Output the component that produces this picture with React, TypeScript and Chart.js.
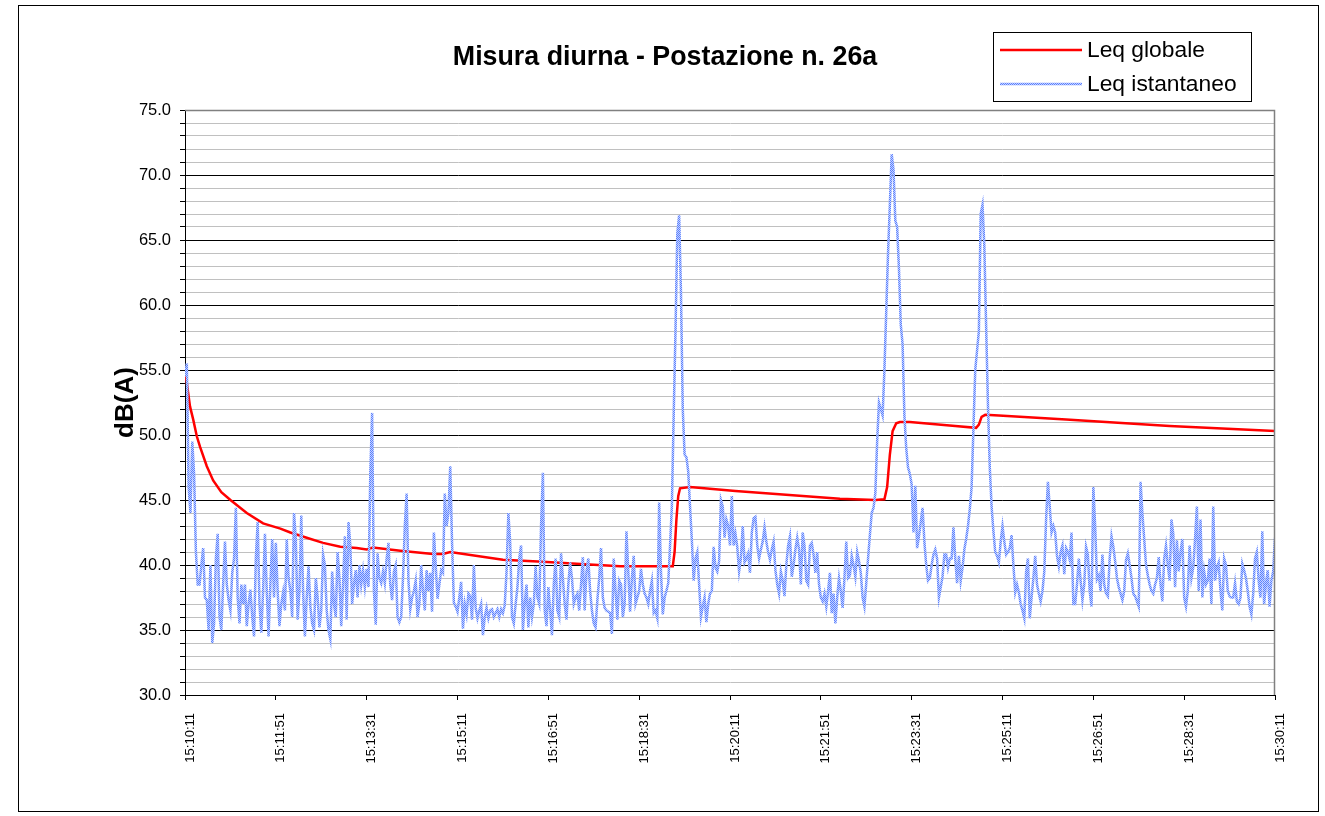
import React, { useEffect, useRef } from 'react';
import { Chart, registerables } from 'chart.js';

Chart.register(...registerables);

const FONT = "'Liberation Sans', Arial, sans-serif";

const chartTitle = 'Misura diurna - Postazione n. 26a';
const yAxisTitle = 'dB(A)';
const seriesNames = ['Leq globale', 'Leq istantaneo'];

// x axis: seconds from 15:10:11
const xTickLabels = [
  '15:10:11', '15:11:51', '15:13:31', '15:15:11', '15:16:51', '15:18:31', '15:20:11',
  '15:21:51', '15:23:31', '15:25:11', '15:26:51', '15:28:31', '15:30:11',
];
const X_TICK_STEP = 100;
const X_MAX = 1200;
const Y_MIN = 30;
const Y_MAX = 75;
const Y_MAJOR = 5;

// Leq istantaneo, one reading every 2 s (15:10:11 -> 15:30:11)
const SAMPLE_STEP = 2;
const instantValues = [
  54.5, 55.5, 46.0, 44.0, 49.5, 47.0, 41.0, 38.5, 38.5, 40.0,
  41.3, 37.5, 37.3, 35.0, 40.0, 34.0, 35.5, 40.5, 42.4, 36.0,
  35.0, 38.5, 41.8, 38.5, 37.3, 36.5, 39.4, 40.5, 44.4, 37.5,
  35.5, 38.5, 37.0, 38.5, 35.3, 37.0, 38.1, 36.0, 34.5, 40.5,
  43.3, 37.0, 34.8, 38.0, 42.4, 38.0, 34.5, 38.5, 42.0, 37.5,
  41.7, 38.0, 35.3, 37.0, 37.9, 36.5, 42.0, 39.0,
  38.0, 36.0, 44.0, 42.0, 35.8, 38.0, 43.8, 38.0, 34.5, 37.5,
  39.9, 36.8, 35.5, 35.0, 39.0, 37.5, 35.2, 36.5, 40.8, 40.0,
  36.5, 35.0, 34.3, 39.5, 37.0, 36.0, 41.0, 39.0, 35.3, 38.5,
  42.2, 35.8, 43.3, 41.5, 37.0, 38.5, 39.6, 37.5, 40.0, 38.5,
  39.6, 38.3, 39.7, 38.3, 47.0, 51.7, 38.0, 35.4, 40.9, 39.0,
  38.6, 39.5, 38.6, 40.5, 41.7, 38.5, 37.3, 39.5, 40.0, 36.0,
  35.6, 36.0, 39.0, 43.0, 45.5, 38.8, 36.6, 37.5, 38.0, 38.8,
  36.0, 37.0, 40.0, 38.0, 36.5, 39.6, 38.0, 39.4, 36.4, 42.5,
  40.0, 37.4, 38.5, 39.6, 39.4, 45.5, 43.0, 44.0, 47.6, 41.7,
  37.1, 36.8, 36.4, 37.5, 38.7, 35.1, 37.0, 36.2, 37.8, 37.6,
  35.8, 40.0, 36.7, 35.9, 36.5, 37.0, 34.6, 36.0, 36.7, 35.9,
  36.5, 36.6, 36.0, 36.3, 36.6, 36.0, 36.6, 36.3, 36.9, 39.5,
  44.0, 41.7,
  36.0, 35.5, 37.0, 38.3, 40.5, 41.5, 35.0, 37.0, 38.5, 35.2,
  37.5, 36.0, 37.0, 39.9, 37.5, 37.0, 43.0, 47.1, 36.5, 35.3,
  38.3, 36.5, 34.6, 38.5, 40.5, 36.5, 36.0, 40.9, 39.0, 37.0,
  35.8, 38.5, 40.2, 39.0, 37.0, 37.5, 37.8, 36.5, 38.5, 40.6,
  36.5, 39.5, 40.5, 38.0, 36.5, 35.5, 35.2, 37.3, 39.0, 41.3,
  37.5, 36.7, 36.5, 36.4, 36.3, 34.7, 40.5, 38.0, 35.8, 38.8,
  38.5, 36.0, 37.0, 42.6, 39.5, 36.4, 39.0, 40.7, 37.0, 37.5,
  38.0, 39.7, 38.5, 37.8, 37.5, 37.0, 38.0, 38.8, 36.3, 36.5,
  35.9, 44.8, 39.5, 36.2, 37.5, 38.0, 38.6, 41.5, 44.5, 51.5,
  58.0, 65.5, 66.9, 61.0, 52.0, 48.5, 48.3, 47.2, 44.5, 41.9,
  38.8, 40.5, 41.0, 38.5, 36.0, 36.8, 37.5, 35.6, 37.0, 37.8,
  38.0, 41.4, 39.8, 39.5, 40.3, 45.0, 44.5, 42.1, 43.5, 43.0,
  41.5, 45.3,
  41.5, 42.4, 41.4, 39.5, 40.5, 43.0, 40.2, 40.5, 40.9, 39.4,
  42.5, 43.6, 43.7, 41.5, 40.5, 41.2, 41.8, 42.9, 41.8, 41.0,
  40.4, 41.2, 41.8, 39.6, 38.5, 37.8, 39.5, 38.8, 37.6, 40.0,
  41.5, 42.2, 39.1, 40.0, 41.2, 42.1, 41.2, 38.5, 42.5, 41.5,
  38.8, 38.5, 41.5, 41.7, 40.8, 39.4, 41.0, 38.5, 37.5, 37.2,
  37.8, 36.8, 38.0, 39.4, 36.3, 37.8, 35.5, 37.5, 39.0, 38.0,
  36.7, 39.0, 41.8, 39.0, 39.2, 40.7, 40.0, 39.1, 41.0, 40.3,
  39.4, 37.5, 36.8, 38.6, 40.5, 42.3, 44.0, 44.4, 45.5, 49.5,
  52.5, 52.0, 51.5, 55.0, 59.5, 64.0, 67.7, 71.6, 70.4, 66.5,
  66.0, 62.8, 58.5, 57.0, 51.5, 49.0, 47.5, 47.0, 46.2, 42.5,
  46.1, 41.3, 42.2, 43.3, 44.4, 41.8, 40.0, 38.8, 39.0, 40.0,
  40.8, 41.2, 40.5, 37.5, 38.3, 39.1, 40.8, 40.8, 39.8, 40.5,
  40.5, 42.9, 40.5, 38.6, 40.7, 38.8, 39.8, 41.2, 42.0, 43.0,
  44.3, 46.0, 50.5, 55.0, 56.5, 58.0, 67.0, 67.7, 64.5, 58.3,
  52.3, 47.5, 44.5, 42.6, 41.0, 40.7, 40.2, 41.8, 43.0, 41.8,
  40.8, 41.0, 41.3, 42.3, 40.0, 37.9, 38.5, 37.9, 37.0, 36.5,
  35.9, 39.5, 40.5, 35.9, 37.5, 39.0, 40.7, 38.5, 37.8, 37.2,
  38.0, 39.5, 43.5, 46.4, 44.5, 42.5, 43.0, 42.5, 40.7, 39.9,
  41.0, 41.5,
  39.3, 41.3, 41.0, 40.4, 42.5, 37.0, 37.0, 38.5, 40.5, 38.8,
  37.3, 38.5, 41.4, 40.8, 38.0, 36.8, 46.0, 43.0, 38.9, 39.2,
  38.0, 40.8, 38.5, 37.8, 37.6, 40.5, 42.2, 41.4, 40.3, 39.0,
  38.3, 37.8, 37.3, 38.0, 40.4, 40.9, 40.0, 39.0, 37.8, 37.6,
  37.2, 36.8, 46.4, 44.0, 42.0, 40.0, 39.2, 38.5, 38.0, 37.8,
  38.5, 39.0, 40.6, 38.5, 37.2, 40.5, 41.5, 40.0, 38.8, 43.5,
  42.4, 38.3, 41.9, 39.5, 41.0, 42.0, 37.5, 36.8, 38.0, 41.5,
  39.0, 39.8, 42.0, 44.5, 38.0, 43.5, 37.5, 39.5, 38.5, 38.8,
  40.5, 37.0, 44.5, 38.8, 39.8, 40.2, 38.0, 36.5, 40.5, 40.0,
  38.0, 37.6, 37.5, 37.5, 38.6, 37.2, 37.0, 37.5, 40.1, 39.6,
  39.0, 38.0, 36.8, 36.2, 37.8, 40.5, 41.0, 38.8, 37.5, 42.6,
  37.0, 38.5, 39.6, 36.8, 38.8, 39.5, 42.1,
];

// Leq globale (running value): seconds from start and dB(A)
const globalTimes = [
  0, 2, 5.5, 9, 13, 16.5, 24, 31, 40, 50,
  68, 86, 105, 116, 134, 152, 171, 189, 200, 207,
  237, 273, 284, 292, 350, 394, 431, 479, 537, 539,
  541, 543, 545, 556, 606, 721, 760, 770, 773, 776,
  779, 783, 787, 798, 848, 871, 874, 877, 881, 896,
  970, 1084, 1200,
];
const globalValues = [
  55.0, 54.0, 52.2, 51.2, 49.9, 49.1, 47.6, 46.5, 45.6, 45.0,
  44.0, 43.2, 42.8, 42.5, 42.1, 41.7, 41.4, 41.3, 41.2, 41.35,
  41.1, 40.85, 40.85, 41.0, 40.4, 40.25, 40.1, 39.9, 39.9, 41.0,
  43.5, 45.3, 45.9, 46.0, 45.7, 45.1, 45.0, 45.05, 46.0, 48.5,
  50.3, 50.9, 51.0, 51.0, 50.7, 50.55, 50.8, 51.4, 51.55, 51.5,
  51.2, 50.7, 50.3,
];

const CANVAS_W = 1325;
const CANVAS_H = 816;

function makePattern(ctx: CanvasRenderingContext2D): CanvasPattern | string {
  const pc = document.createElement('canvas');
  pc.width = 2;
  pc.height = 2;
  const p = pc.getContext('2d');
  if (!p) return '#94acff';
  p.fillStyle = '#c4d2ff';
  p.fillRect(0, 0, 2, 2);
  p.fillStyle = '#5b80ff';
  p.fillRect(0, 0, 1, 1);
  p.fillRect(1, 1, 1, 1);
  return ctx.createPattern(pc, 'repeat') || '#94acff';
}

export default function App() {
  const ref = useRef<HTMLCanvasElement | null>(null);

  useEffect(() => {
    const canvas = ref.current;
    if (!canvas) return;
    const ctx = canvas.getContext('2d');
    if (!ctx) return;
    const bluePattern = makePattern(ctx);

    const decorPlugin = {
      id: 'decor',
      beforeDraw(chart: any) {
        const c = chart.ctx as CanvasRenderingContext2D;
        c.save();
        c.fillStyle = '#fff';
        c.fillRect(0, 0, chart.width, chart.height);
        c.restore();
      },
      afterDraw(chart: any) {
        const c = chart.ctx as CanvasRenderingContext2D;
        const a = chart.chartArea;
        c.save();
        // plot area border (top / right) in gray
        c.strokeStyle = '#808080';
        c.lineWidth = 1.5;
        c.beginPath();
        c.moveTo(a.left, a.top + 0.5);
        c.lineTo(a.right - 0.5, a.top + 0.5);
        c.lineTo(a.right - 0.5, a.bottom);
        c.stroke();

        // outer chart frame
        c.strokeStyle = '#000';
        c.lineWidth = 1;
        c.strokeRect(18.5, 5.5, 1300, 806);

        // title
        c.fillStyle = '#000';
        c.font = `bold 26.8px ${FONT}`;
        c.textAlign = 'center';
        c.textBaseline = 'middle';
        c.fillText(chartTitle, 665, 58);

        // y axis title
        c.save();
        c.translate(a.left - 59, (a.top + a.bottom) / 2);
        c.rotate(-Math.PI / 2);
        c.font = `bold 26px ${FONT}`;
        c.fillText(yAxisTitle, 0, 0);
        c.restore();

        // legend
        const lx = 993;
        const ly = 32;
        const lw = 258;
        const lh = 69;
        c.fillStyle = '#fff';
        c.fillRect(lx, ly, lw, lh);
        c.strokeStyle = '#000';
        c.lineWidth = 1;
        c.strokeRect(lx + 0.5, ly + 0.5, lw, lh);
        const ds = chart.data.datasets;
        const rows = [ly + 18, ly + 52];
        rows.forEach((ry: number, i: number) => {
          c.strokeStyle = ds[i].borderColor;
          c.lineWidth = ds[i].borderWidth;
          c.beginPath();
          c.moveTo(lx + 7, ry);
          c.lineTo(lx + 89, ry);
          c.stroke();
          c.fillStyle = '#000';
          c.font = `22.8px ${FONT}`;
          c.textAlign = 'left';
          c.textBaseline = 'middle';
          c.fillText(ds[i].label, lx + 94, ry + 1);
        });
        c.restore();
      },
    };

    const chart = new Chart(canvas, {
      type: 'line',
      data: {
        datasets: [
          {
            label: seriesNames[0],
            data: globalTimes.map((t, i) => ({ x: t, y: globalValues[i] })),
            borderColor: '#ff0000',
            borderWidth: 2.5,
            pointRadius: 0,
            tension: 0,
            order: 1,
          },
          {
            label: seriesNames[1],
            data: instantValues.map((v, i) => ({ x: i * SAMPLE_STEP, y: v })),
            borderColor: bluePattern as any,
            borderWidth: 2.5,
            pointRadius: 0,
            tension: 0,
            order: 0,
          },
        ],
      },
      options: {
        animation: false,
        responsive: false,
        events: [],
        layout: { padding: { left: 0, right: 50, top: 110, bottom: 41 } },
        plugins: {
          legend: { display: false },
          title: { display: false },
          tooltip: { enabled: false },
        },
        scales: {
          x: {
            type: 'linear',
            min: 0,
            max: X_MAX,
            ticks: {
              stepSize: X_TICK_STEP,
              autoSkip: false,
              minRotation: 90,
              maxRotation: 90,
              labelOffset: 5,
              padding: 13,
              color: '#000',
              font: { family: FONT, size: 13 },
              callback: (v: any) => xTickLabels[Math.round(Number(v) / X_TICK_STEP)] ?? '',
            },
            grid: {
              drawOnChartArea: false,
              drawTicks: true,
              tickLength: 5,
              tickColor: '#000',
            },
            border: { display: true, color: '#000', width: 1 },
            afterFit: (s: any) => {
              s.height = 80;
              s.paddingLeft = 0;
              s.paddingRight = 0;
            },
          },
          y: {
            type: 'linear',
            min: Y_MIN,
            max: Y_MAX,
            ticks: {
              stepSize: 1,
              autoSkip: false,
              padding: 9,
              color: '#000',
              font: { family: FONT, size: 16.5 },
              callback: (v: any) => (Number(v) % Y_MAJOR === 0 ? Number(v).toFixed(1) : ''),
            },
            grid: {
              drawOnChartArea: true,
              drawTicks: true,
              tickLength: 5,
              tickColor: '#000',
              lineWidth: 1,
              color: (c: any) => {
                const v = c.tick ? c.tick.value : 0;
                if (v === Y_MAX) return '#808080';
                return v % Y_MAJOR === 0 ? '#000000' : '#c0c0c0';
              },
            },
            border: { display: true, color: '#000', width: 1 },
            afterFit: (s: any) => {
              s.width = 185;
              s.paddingTop = 0;
              s.paddingBottom = 0;
            },
          },
        },
      },
      plugins: [decorPlugin],
    });

    return () => chart.destroy();
  }, []);

  return (
    <div style={{ position: 'absolute', left: 0, top: 0, width: CANVAS_W, height: CANVAS_H }}>
      <canvas ref={ref} width={CANVAS_W} height={CANVAS_H} style={{ display: 'block' }} />
    </div>
  );
}
